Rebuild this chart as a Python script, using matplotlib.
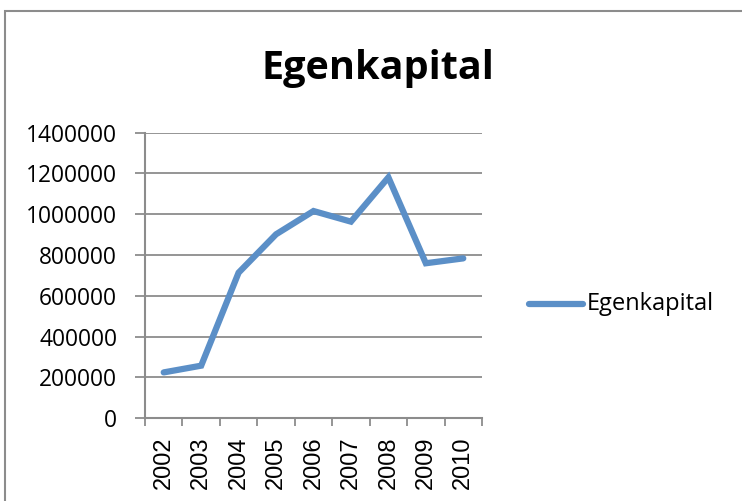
import matplotlib
matplotlib.use("Agg")
import matplotlib.pyplot as plt
from matplotlib.patches import Rectangle
from matplotlib.lines import Line2D

years = ["2002", "2003", "2004", "2005", "2006", "2007", "2008", "2009", "2010"]
egenkapital = [225000, 258000, 714000, 902000, 1016000, 964000, 1181000, 760000, 784000]
yticks = [0, 200000, 400000, 600000, 800000, 1000000, 1200000, 1400000]

W, H = 742, 501
fig = plt.figure(figsize=(W / 100, H / 100), dpi=100)
fig.patch.set_facecolor("white")

# outer chart border
fig.patches.append(Rectangle((5 / W, -0.1), 1.2, 1.1 - 11 / H, transform=fig.transFigure,
                             fill=False, edgecolor="#8c8c8c", linewidth=1.5))

left, right, top, bottom = 145, 482, 132.7, 418.3
ax = fig.add_axes([left / W, 1 - bottom / H, (right - left) / W, (bottom - top) / H])

color = "#5b8fc7"
x = list(range(len(years)))
ax.plot(x, egenkapital, color=color, linewidth=4.5, solid_capstyle="round", solid_joinstyle="miter")

ax.set_xlim(-0.5, len(years) - 0.5)
ax.set_ylim(0, 1400000)
ax.set_yticks(yticks)
ax.set_yticklabels([str(v) for v in yticks], fontfamily="Open Sans", fontsize=16.4)
ax.yaxis.grid(True, color="#8c8c8c", linewidth=1.3)
ax.set_axisbelow(True)

ax.set_xticks([i - 0.5 for i in range(len(years) + 1)], minor=False)
ax.set_xticklabels([""] * (len(years) + 1))
ax.set_xticks(x, minor=True)
ax.set_xticklabels(years, minor=True, rotation=90, fontfamily="Liberation Sans", fontsize=17)
ax.tick_params(axis="x", which="major", length=6, width=1.3, color="#8c8c8c", direction="out")
ax.tick_params(axis="x", which="minor", length=0, pad=13)
ax.tick_params(axis="y", length=7, width=1.3, color="#8c8c8c", direction="out", pad=13)

for s in ["top", "right"]:
    ax.spines[s].set_visible(False)
for s in ["left", "bottom"]:
    ax.spines[s].set_color("#8c8c8c")
    ax.spines[s].set_linewidth(1.5)

fig.text(378 / W, 1 - 68 / H, "Egenkapital", ha="center", va="center",
         fontfamily="Open Sans", fontweight="bold", fontsize=28.5)

fig.lines.append(Line2D([529 / W, 583 / W], [1 - 304 / H, 1 - 304 / H], transform=fig.transFigure,
                        color=color, linewidth=4.5, solid_capstyle="round"))
fig.text(587 / W, 1 - 304 / H, "Egenkapital", ha="left", va="center",
         fontfamily="Open Sans", fontsize=17)

fig.savefig("out.png", dpi=100, facecolor="white")
